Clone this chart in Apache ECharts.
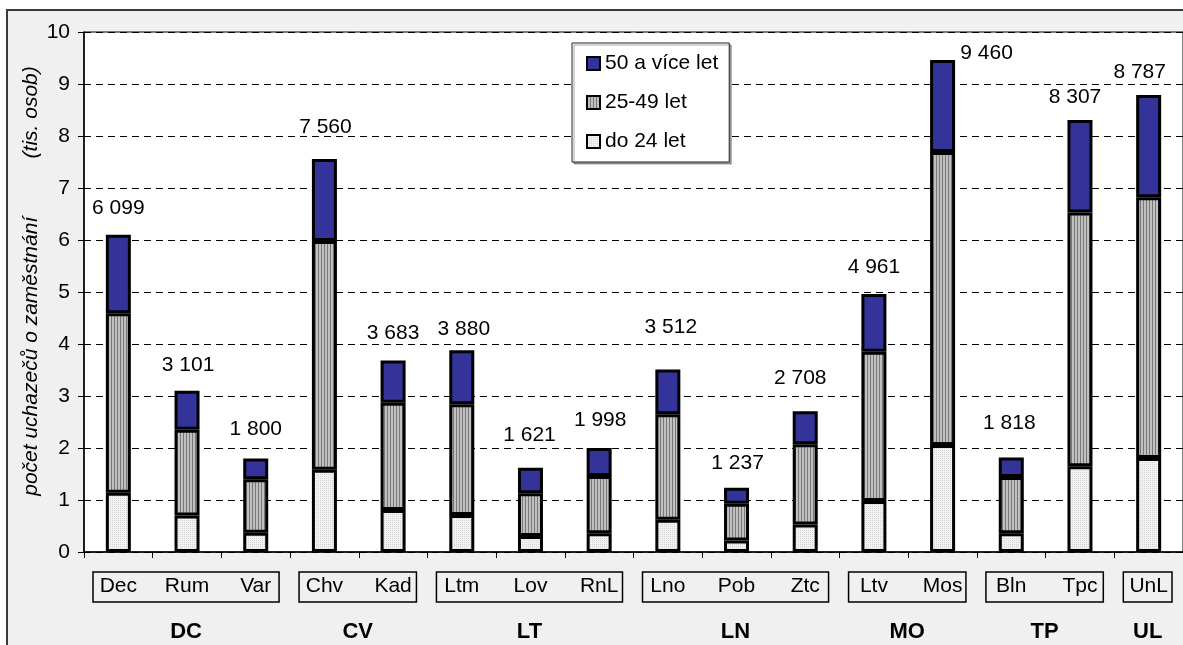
<!DOCTYPE html>
<html>
<head>
<meta charset="utf-8">
<script src="https://cdn.jsdelivr.net/npm/echarts@6/dist/echarts.min.js"></script>
<style>
  html, body { margin: 0; padding: 0; background: #fff; }
  #chart { width: 1183px; height: 645px; }
</style>
</head>
<body>
<div id="chart"></div>
<script>
// okresy (categories) a kraje (groups)
const categories = ['Dec', 'Rum', 'Var', 'Chv', 'Kad', 'Ltm', 'Lov', 'RnL', 'Lno', 'Pob', 'Ztc', 'Ltv', 'Mos', 'Bln', 'Tpc', 'UnL'];
const groupNames = ['DC', 'CV', 'LT', 'LN', 'MO', 'TP', 'UL'];
const groupSizes = [3, 2, 3, 3, 2, 2, 1];

// tis. osob
const under25 = [1.14, 0.70, 0.37, 1.58, 0.81, 0.71, 0.31, 0.36, 0.62, 0.22, 0.53, 0.98, 2.06, 0.36, 1.65, 1.81];
const age25to49 = [3.45, 1.65, 1.03, 4.40, 2.06, 2.13, 0.82, 1.10, 2.03, 0.71, 1.54, 2.87, 5.63, 1.08, 4.88, 5.01];
const over50 = [1.509, 0.751, 0.40, 1.58, 0.813, 1.04, 0.491, 0.538, 0.862, 0.307, 0.638, 1.111, 1.77, 0.378, 1.777, 1.967];
const totals = [6099, 3101, 1800, 7560, 3683, 3880, 1621, 1998, 3512, 1237, 2708, 4961, 9460, 1818, 8307, 8787];

// hand-placed total labels in the original: [dx, dy] nudges
const labelNudge = [[0, -16], [1, -15], [0, -19], [1, -21], [0, -17], [2, -11], [-1, -22], [1, -17],
  [3, -32], [1, -14], [-5, -22], [0, -16], [44, 4], [-2, -24], [-5, -12], [-9, -12]];

const FONT = '"Liberation Sans", Arial, sans-serif';

function makePattern(w, h, draw) {
  const c = document.createElement('canvas');
  c.width = w; c.height = h;
  draw(c.getContext('2d'));
  return { image: c, repeat: 'repeat' };
}

const stripes = makePattern(3, 4, ctx => {
  ctx.fillStyle = '#c0c0c0'; ctx.fillRect(0, 0, 3, 4);
  ctx.fillStyle = '#777'; ctx.fillRect(0, 0, 1, 4);
});
const dots = makePattern(2, 2, ctx => {
  ctx.fillStyle = '#f2f2f2'; ctx.fillRect(0, 0, 2, 2);
  ctx.fillStyle = '#d6d6d6'; ctx.fillRect(0, 0, 1, 1);
});

const fmt = n => String(n).replace(/\B(?=(\d{3})+(?!\d))/g, ' ');

const chart = echarts.init(document.getElementById('chart'));

const barBase = {
  type: 'bar',
  stack: 'all',
  barWidth: 25,
  emphasis: { disabled: true }
};
const edge = { borderColor: '#000', borderWidth: 3 };

chart.setOption({
  animation: false,
  textStyle: { fontFamily: FONT, color: '#000' },
  grid: {
    left: 84, top: 32, width: 1102, height: 520,
    show: true, backgroundColor: '#fff', borderColor: '#000', borderWidth: 1
  },
  legend: {
    orient: 'vertical',
    left: 572, top: 43,
    data: ['50 a více let', '25-49 let', 'do 24 let'],
    icon: 'rect',
    itemWidth: 13, itemHeight: 13, itemGap: 18, itemTextGap: 6,
    itemStyle: { borderColor: '#000', borderWidth: 2 },
    padding: [10, 11, 10, 14],
    backgroundColor: '#fff', borderColor: '#222', borderWidth: 1,
    shadowColor: 'rgba(0,0,0,0.35)', shadowOffsetX: 2, shadowOffsetY: 2, shadowBlur: 0,
    textStyle: { fontSize: 21, lineHeight: 21, color: '#000', fontFamily: FONT },
    selectedMode: false
  },
  xAxis: {
    type: 'category',
    data: categories,
    axisLine: { lineStyle: { color: '#000', width: 1.5 } },
    axisTick: { show: true, interval: 0, length: 6, lineStyle: { color: '#000' } },
    axisLabel: { interval: 0, margin: 24, fontSize: 21, lineHeight: 21, color: '#000', fontFamily: FONT }
  },
  yAxis: {
    type: 'value',
    min: 0, max: 10, interval: 1,
    name: 'počet uchazečů o zaměstnání          (tis. osob)',
    nameLocation: 'middle',
    nameRotate: 90,
    nameGap: 42,
    nameMoveOverlap: false,
    nameTextStyle: { fontSize: 21, fontStyle: 'italic', color: '#000', fontFamily: FONT, padding: [0, 0, 0, 22] },
    axisLine: { show: true, lineStyle: { color: '#000', width: 1.5 } },
    axisTick: { show: true, length: 6, lineStyle: { color: '#000' } },
    axisLabel: { fontSize: 21, margin: 14, color: '#000', fontFamily: FONT },
    splitLine: { lineStyle: { color: '#000', width: 1, type: [7, 5] } }
  },
  series: [
    Object.assign({}, barBase, {
      name: 'do 24 let',
      data: under25,
      itemStyle: Object.assign({ color: dots }, edge)
    }),
    Object.assign({}, barBase, {
      name: '25-49 let',
      data: age25to49,
      itemStyle: Object.assign({ color: stripes }, edge)
    }),
    Object.assign({}, barBase, {
      name: '50 a více let',
      data: over50.map((v, i) => ({ value: v, label: { offset: labelNudge[i] } })),
      itemStyle: Object.assign({ color: '#333399' }, edge),
      label: {
        show: true,
        position: 'top',
        distance: 0,
        fontSize: 21,
        lineHeight: 21,
        color: '#000',
        fontFamily: FONT,
        formatter: p => fmt(totals[p.dataIndex])
      }
    })
  ]
});

// group boxes under the category labels, placed from the axis scale
function drawGroups() {
  const c0 = chart.convertToPixel({ xAxisIndex: 0 }, categories[0]);
  const c1 = chart.convertToPixel({ xAxisIndex: 0 }, categories[1]);
  const band = c1 - c0;
  const elements = [{
    type: 'rect', z: -100,
    shape: { x: 7, y: 10, width: 1300, height: 800 },
    style: { fill: '#f0f0f0', stroke: '#3a3a3a', lineWidth: 2 }
  }];
  let idx = 0;
  groupNames.forEach((g, gi) => {
    const first = idx;
    const last = idx + groupSizes[gi] - 1;
    const xs = chart.convertToPixel({ xAxisIndex: 0 }, categories[first]) - band / 2 + 9;
    const xe = chart.convertToPixel({ xAxisIndex: 0 }, categories[last]) + band / 2 - 11;
    elements.push({
      type: 'rect', z: 10,
      shape: { x: xs, y: 572, width: xe - xs, height: 30 },
      style: { fill: 'none', stroke: '#000', lineWidth: 1.5 }
    });
    elements.push({
      type: 'text', z: 10,
      x: (xs + xe) / 2, y: 632,
      style: {
        text: g, fontSize: 22, fontWeight: 'bold', fontFamily: FONT,
        fill: '#000', align: 'center', verticalAlign: 'middle'
      }
    });
    idx = last + 1;
  });
  chart.setOption({ graphic: elements });
}
drawGroups();
</script>
</body>
</html>
